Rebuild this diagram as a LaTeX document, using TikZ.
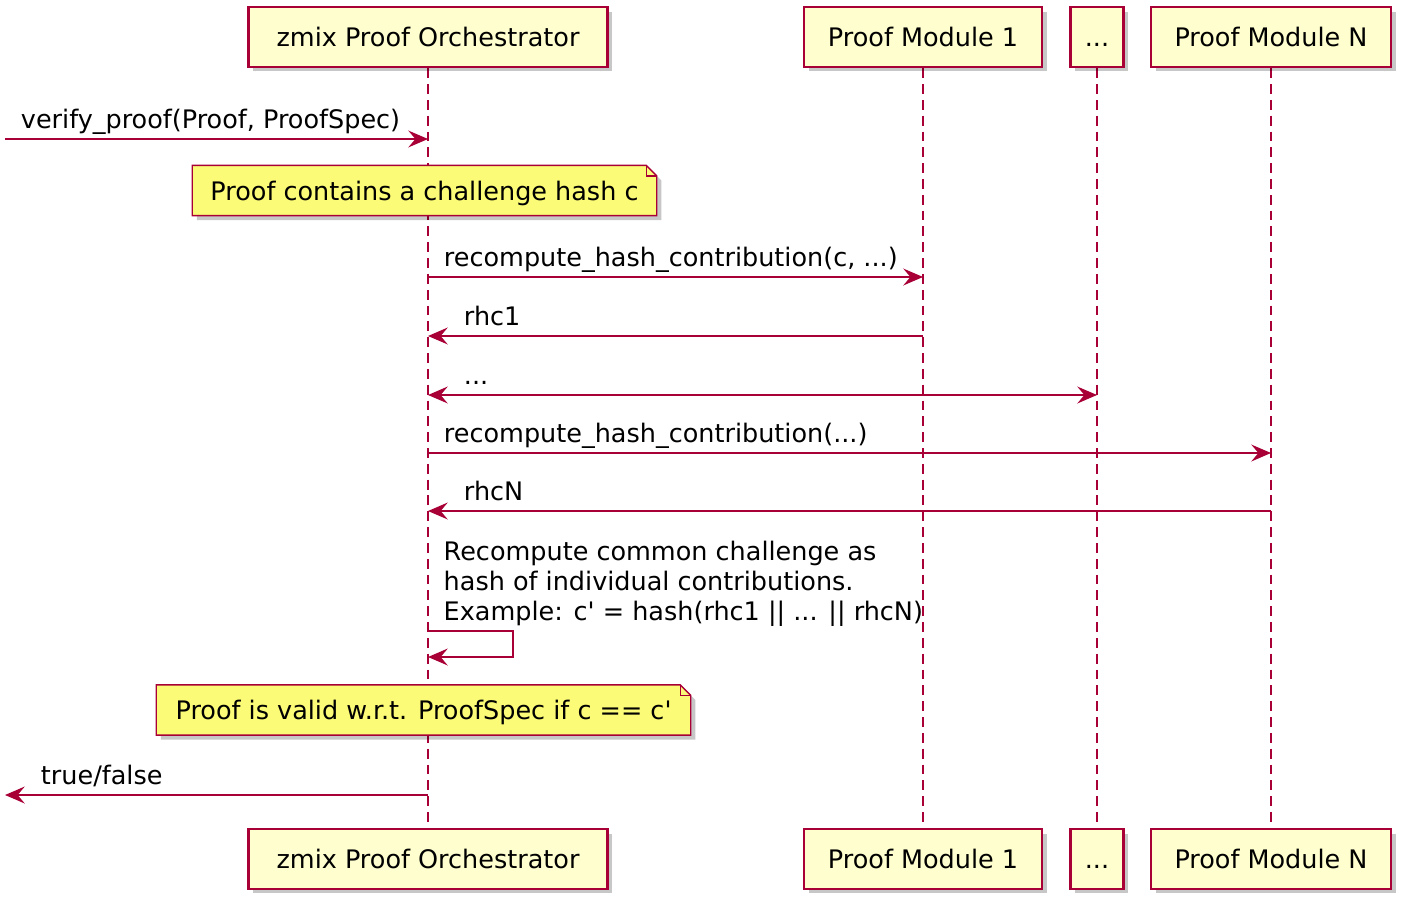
\documentclass[tikz,border=0pt]{standalone}
\usepackage{fontspec}
\setmainfont{DejaVu Sans}
\usetikzlibrary{arrows.meta,shadows}

\definecolor{umlred}{HTML}{A80036}
\definecolor{partfill}{HTML}{FEFECE}
\definecolor{notefill}{HTML}{FBFB77}

\pgfdeclarelayer{lifelines}
\pgfdeclarelayer{notebodies}
\pgfsetlayers{lifelines,notebodies,main}

\newcommand{\dognote}[1]{%
  \begin{pgfonlayer}{notebodies}
    \path[notebody] (#1.north west) -- ([xshift=-3pt]#1.north east)
      -- ([yshift=-3pt]#1.north east) -- (#1.south east) -- (#1.south west) -- cycle;
    \draw[umlred,line width=.4pt] ([xshift=-3pt]#1.north east) |- ([yshift=-3pt]#1.north east);
  \end{pgfonlayer}}

\begin{document}
\begin{tikzpicture}[x=0.01cm,y=-0.01cm,
  every node/.style={font=\fontsize{7.25}{8.5}\selectfont},
  umltip/.tip={Stealth[length=5.6pt,width=4.8pt,inset=2pt]},
  participant/.style={draw=umlred,fill=partfill,line width=.75pt,minimum height=17pt,
    inner xsep=4pt,text height=6.2pt,text depth=0.9pt,
    drop shadow={shadow xshift=1.3pt,shadow yshift=-1.3pt,fill=black,opacity=.22}},
  life/.style={umlred,line width=.35pt,dash pattern=on 2.8pt off 1.7pt},
  msg/.style={umlred,line width=.45pt,-umltip},
  lbl/.style={anchor=base west,inner sep=0pt,text=black,yshift=2.9pt},
  notetext/.style={inner xsep=3.4pt,inner ysep=0pt,minimum height=13.9pt,
    text height=6.2pt,text depth=0.6pt},
  notebody/.style={draw=umlred,fill=notefill,line width=.4pt,
    drop shadow={shadow xshift=1.3pt,shadow yshift=-1.3pt,fill=black,opacity=.22}}]
  \useasboundingbox (0,0) rectangle (1407,909);

  % participants, top and bottom
  \node[participant,minimum width=102pt] (orch) at (428,37) {zmix Proof Orchestrator};
  \node[participant,minimum width=67.7pt] (mod1) at (923,37) {Proof Module 1};
  \node[participant,minimum width=14.5pt] (dots) at (1097,37) {...};
  \node[participant,minimum width=68.3pt] (modN) at (1271,37) {Proof Module N};
  \node[participant,minimum width=102pt] (orchB) at (428,859) {zmix Proof Orchestrator};
  \node[participant,minimum width=67.7pt] (mod1B) at (923,859) {Proof Module 1};
  \node[participant,minimum width=14.5pt] (dotsB) at (1097,859) {...};
  \node[participant,minimum width=68.3pt] (modNB) at (1271,859) {Proof Module N};

  \begin{pgfonlayer}{lifelines}
    \draw[life] (orch) -- (orchB);
    \draw[life] (mod1) -- (mod1B);
    \draw[life] (dots) -- (dotsB);
    \draw[life] (modN) -- (modNB);
  \end{pgfonlayer}

  % message rows
  \coordinate (in) at (5,139);
  \coordinate (r2) at (0,277);
  \coordinate (r3) at (0,336);
  \coordinate (r4) at (0,395);
  \coordinate (r5) at (0,453);
  \coordinate (r6) at (0,511);
  \coordinate (selfA) at (428,631);
  \coordinate (selfB) at (513,644);
  \coordinate (selfC) at (428,657);
  \coordinate (out) at (5,795);

  \draw[msg] (in) -- (orch |- in) node[lbl,pos=0,xshift=4.3pt] {verify\_proof(Proof, ProofSpec)};

  \node[notetext,minimum width=131.7pt] (note1) at (424.5,190.5) {Proof contains a challenge hash c};
  \dognote{note1}

  \draw[msg] (orch |- r2) -- (mod1 |- r2) node[lbl,pos=0,xshift=4.3pt] {recompute\_hash\_contribution(c, ...)};
  \draw[msg] (mod1 |- r3) -- (orch |- r3) node[lbl,pos=1,xshift=10pt] {rhc1};
  \draw[msg,umltip-umltip] (orch |- r4) -- (dots |- r4) node[lbl,pos=0,xshift=10pt] {...};
  \draw[msg] (orch |- r5) -- (modN |- r5) node[lbl,pos=0,xshift=4.3pt] {recompute\_hash\_contribution(...)};
  \draw[msg] (modN |- r6) -- (orch |- r6) node[lbl,pos=1,xshift=10pt] {rhcN};

  % self message
  \draw[msg] (selfA) -| (selfB) |- (selfC);
  \node[anchor=base west,inner sep=0pt,align=left] (selftext) at (443,620)
    {Recompute common challenge as\\hash of individual contributions.\\Example: c\textquotesingle{} = hash(rhc1 || ... || rhcN)};

  \node[notetext,minimum width=151.6pt] (note2) at (423.5,710) {Proof is valid w.r.t. ProofSpec if c == c\textquotesingle};
  \dognote{note2}

  \draw[msg] (orch |- out) -- (out) node[lbl,pos=1,xshift=10pt] {true/false};
\end{tikzpicture}
\end{document}
